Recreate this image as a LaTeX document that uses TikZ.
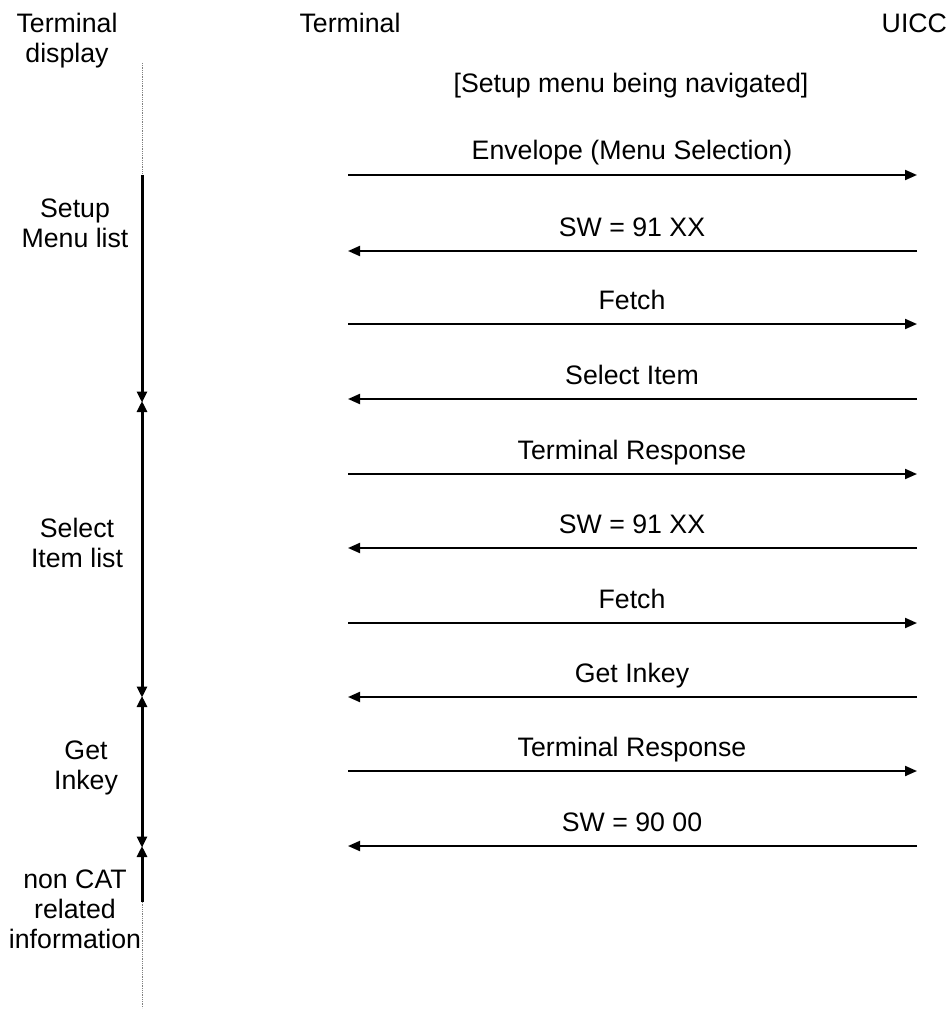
\documentclass[tikz,border=0pt]{standalone}
\usepackage{fontspec}
\setmainfont{Liberation Sans}
\usetikzlibrary{arrows.meta}
\begin{document}
\begin{tikzpicture}[x=1pt,y=-1pt,
  every node/.style={font=\fontsize{26.7}{30}\selectfont, inner sep=0pt, outer sep=0pt},
  lbl/.style={anchor=base, align=center},
  msg/.style={line width=2pt, -{Triangle[length=12pt,width=10pt]}},
  life/.style={line width=3pt},
  lifearrow/.style={line width=3pt, {Triangle[length=11pt,width=10pt]}-{Triangle[length=11pt,width=10pt]}},
  dotline/.style={gray, line width=0.8pt, densely dotted}]
\useasboundingbox (0,0) rectangle (949,1011);
% headers (base anchor = baseline of last line)
\node[lbl] (hdisp) at (67,63) {Terminal\\display};
\node[lbl] (hterm) at (350,33) {Terminal};
\node[lbl, anchor=base east] (huicc) at (947,33) {UICC};
\node[lbl] (nav) at (631,93) {[Setup menu being navigated]};
% terminal display timeline
\coordinate (d0) at (142,63);
\coordinate (d1) at (142,175);
\coordinate (d2) at (142,402);
\coordinate (d3) at (142,697);
\coordinate (d4) at (142,847);
\coordinate (d5) at (142,902);
\coordinate (d6) at (142,1008);
\draw[dotline] (d0) -- (d6);
\draw[life, -{Triangle[length=11pt,width=10pt]}] (d1) -- ([yshift=-0.5pt]d2);
\draw[lifearrow] ([yshift=1pt]d2) -- ([yshift=-0.5pt]d3);
\draw[lifearrow] ([yshift=1pt]d3) -- ([yshift=-0.5pt]d4);
\draw[life, {Triangle[length=11pt,width=10pt]}-] ([yshift=1pt]d4) -- (d5);
% side labels
\node[lbl] (l1) at (75,247) {Setup\\Menu list};
\node[lbl] (l2) at (77,567) {Select\\Item list};
\node[lbl] (l3) at (86,789) {Get\\Inkey};
\node[lbl] (l4) at (75,948) {non CAT\\related\\information};
% messages
\foreach \y/\t/\d [count=\i] in {175/{Envelope (Menu Selection)}/r, 251/{SW = 91 XX}/l, 324/{Fetch}/r, 399/{Select Item}/l, 474/{Terminal Response}/r, 548/{SW = 91 XX}/l, 623/{Fetch}/r, 697/{Get Inkey}/l, 771/{Terminal Response}/r, 846/{SW = 90 00}/l}{
  \coordinate (tl\i) at (348,\y);
  \coordinate (ur\i) at (917,\y);
  \node[lbl] (m\i) at (632,\y-15) {\t};
  \if\d r
    \draw[msg] (tl\i) -- (ur\i);
  \else
    \draw[msg] (ur\i) -- (tl\i);
  \fi
}
\end{tikzpicture}
\end{document}
